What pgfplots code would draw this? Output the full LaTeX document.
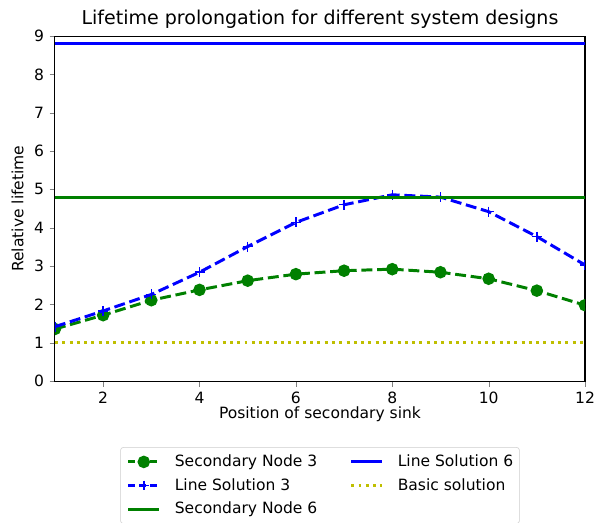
\documentclass[border=0pt]{standalone}
\usepackage{fontspec}
\setmainfont{DejaVu Sans}
\usepackage{pgfplots}
\pgfplotsset{compat=1.18}
\definecolor{mgreen}{rgb}{0,0.5,0}
\definecolor{mblue}{rgb}{0,0,1}
\definecolor{myellow}{rgb}{0.75,0.75,0}
\begin{document}
\fontsize{11.5pt}{13pt}\selectfont
\begin{tikzpicture}
\begin{axis}[
  scale only axis,
  width=392.6pt, height=255.6pt,
  xmin=1, xmax=12, ymin=0, ymax=9,
  xtick={2,4,6,8,10,12}, ytick={0,1,...,9},
  tick align=outside, tick pos=left,
  major tick length=4pt,
  axis line style={line width=0.8pt},
  /pgf/number format/assume math mode=true,
  ticklabel style={font=\fontsize{11.5pt}{13pt}\selectfont},
  label style={font=\fontsize{11.5pt}{13pt}\selectfont},
  title={Lifetime prolongation for different system designs},
  title style={font=\fontsize{14.1pt}{16pt}\selectfont, at={(0.5,1)}, anchor=center, yshift=6.6pt},
  xlabel={Position of secondary sink},
  ylabel={Relative lifetime},
  xlabel style={at={(0.5,0)}, anchor=center, yshift=-24.5pt},
  ylabel style={at={(0,0.5)}, anchor=center, yshift=27.7pt},
  clip mode=individual, clip marker paths=true,
  legend columns=2,
  legend style={at={(0.5,0)}, anchor=north, yshift=-48.9pt, draw=black!20, rounded corners=2pt,
    font=\fontsize{11.5pt}{13pt}\selectfont,
    /tikz/every odd column/.append style={column sep=10.4pt},
    /tikz/every even column/.append style={column sep=24pt},
    nodes={inner xsep=0pt, inner ysep=1.5pt},
    row sep=4pt, inner xsep=4.6pt, inner ysep=4pt},
  legend cell align=left,
  legend image code/.code={\draw[mark repeat=2,mark phase=2,#1] plot coordinates {(0pt,0pt) (11.5pt,0pt) (23pt,0pt)};},
]
\addlegendimage{mgreen, line width=2.2pt, dash pattern=on 5pt off 3pt, mark=*, mark size=3.5pt, mark options={solid}}
\addlegendentry{Secondary Node 3}
\addlegendimage{mblue, line width=2.2pt}
\addlegendentry{Line Solution 6}
\addlegendimage{mblue, line width=2.2pt, dash pattern=on 5pt off 3pt, mark=+, mark size=3.7pt, mark options={solid, line width=1.1pt}}
\addlegendentry{Line Solution 3}
\addlegendimage{myellow, line width=2.2pt, dash pattern=on 2.2pt off 3.2pt}
\addlegendentry{Basic solution}
\addlegendimage{mgreen, line width=2.2pt}
\addlegendentry{Secondary Node 6}

\addplot[forget plot, mgreen, line width=2.2pt, dash pattern=on 8.1pt off 3.5pt, mark=*, mark size=3.5pt, mark options={solid}]
 coordinates {(1,1.36)(2,1.72)(3,2.11)(4,2.38)(5,2.62)(6,2.79)(7,2.88)(8,2.92)(9,2.84)(10,2.67)(11,2.36)(12,1.98)};
\addplot[forget plot, mblue, line width=2.2pt, dash pattern=on 8.1pt off 3.5pt, mark=+, mark size=3.7pt, mark options={solid, line width=1.1pt}]
 coordinates {(1,1.42)(2,1.83)(3,2.26)(4,2.84)(5,3.51)(6,4.14)(7,4.60)(8,4.86)(9,4.80)(10,4.42)(11,3.77)(12,3.03)};
\addplot[forget plot, mgreen, line width=2.2pt] coordinates {(1,4.8)(12,4.8)};
\addplot[forget plot, mblue, line width=2.2pt] coordinates {(1,8.81)(12,8.81)};
\addplot[forget plot, myellow, line width=2.2pt, dash pattern=on 2.2pt off 3.2pt] coordinates {(1,1.0)(12,1.0)};
\coordinate (ll) at (rel axis cs:0,0);
\coordinate (ur) at (rel axis cs:1,1);
\end{axis}
\pgfresetboundingbox
\path ([shift={(-40.7pt,-104.4pt)}]ll) rectangle ([shift={(7.4pt,26.7pt)}]ur);
\end{tikzpicture}
\end{document}
